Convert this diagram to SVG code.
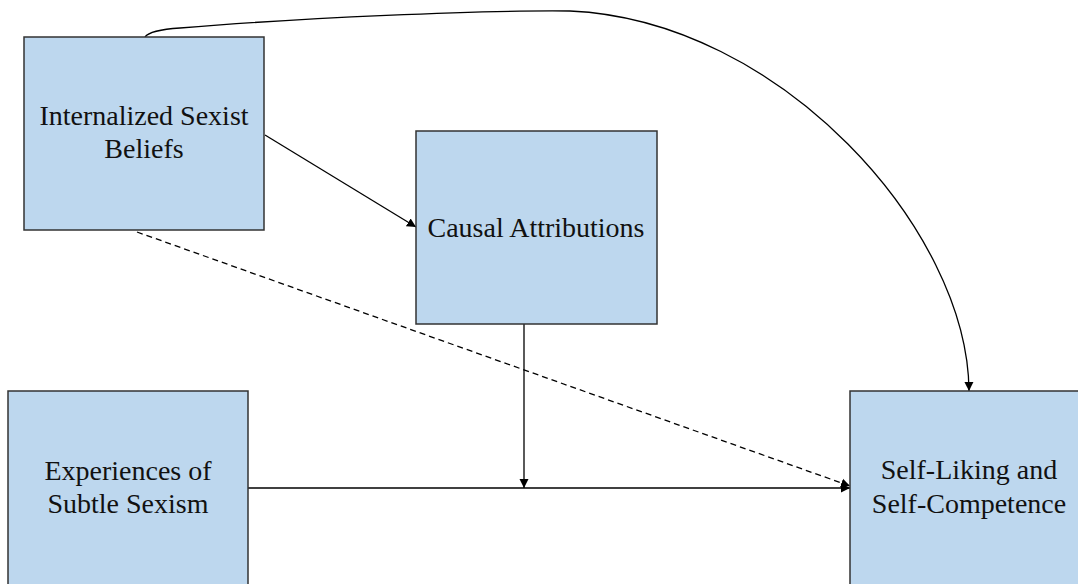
<svg xmlns="http://www.w3.org/2000/svg" width="1078" height="584" viewBox="0 0 1078 584">
<style>
.box{fill:#BDD7EE;stroke:#333333;stroke-width:1.5}
.lbl{font-family:"Liberation Serif","Times New Roman",serif;font-size:28px;fill:#111111;text-anchor:middle}
.edge{fill:none;stroke:#000000;stroke-width:1.3}
.dash{stroke-dasharray:6,4}
</style>
<defs>
<marker id="arr" markerUnits="userSpaceOnUse" markerWidth="10" markerHeight="10" refX="9" refY="5" orient="auto">
<path d="M0,0.5 L9,5 L0,9.5 z" fill="#000000"/>
</marker>
</defs>
<rect width="1078" height="584" fill="#ffffff"/>
<g id="connectors">
<path class="edge" d="M145,37 Q150,30 180,28 C300,18 480,10 570,11 C780,20 968,230 969,391" marker-end="url(#arr)"/>
<line class="edge" x1="265" y1="135" x2="416" y2="227" marker-end="url(#arr)"/>
<line class="edge dash" x1="137" y1="232" x2="850" y2="486" marker-end="url(#arr)"/>
<line class="edge" x1="248" y1="488" x2="850" y2="488" marker-end="url(#arr)"/>
<line class="edge" x1="524" y1="324" x2="524" y2="488" marker-end="url(#arr)"/>
</g>
<g id="node-internalized">
<rect class="box" x="24" y="37" width="240" height="193"/>
<text class="lbl" x="144" y="125">Internalized Sexist</text>
<text class="lbl" x="144" y="158">Beliefs</text>
</g>
<g id="node-causal">
<rect class="box" x="416" y="131" width="241" height="193"/>
<text class="lbl" x="536" y="237">Causal Attributions</text>
</g>
<g id="node-experiences">
<rect class="box" x="8" y="391" width="240" height="200"/>
<text class="lbl" x="128" y="480">Experiences of</text>
<text class="lbl" x="128" y="513">Subtle Sexism</text>
</g>
<g id="node-self">
<rect class="box" x="850" y="391" width="240" height="200"/>
<text class="lbl" x="969" y="479">Self-Liking and</text>
<text class="lbl" x="969" y="513">Self-Competence</text>
</g>
</svg>
